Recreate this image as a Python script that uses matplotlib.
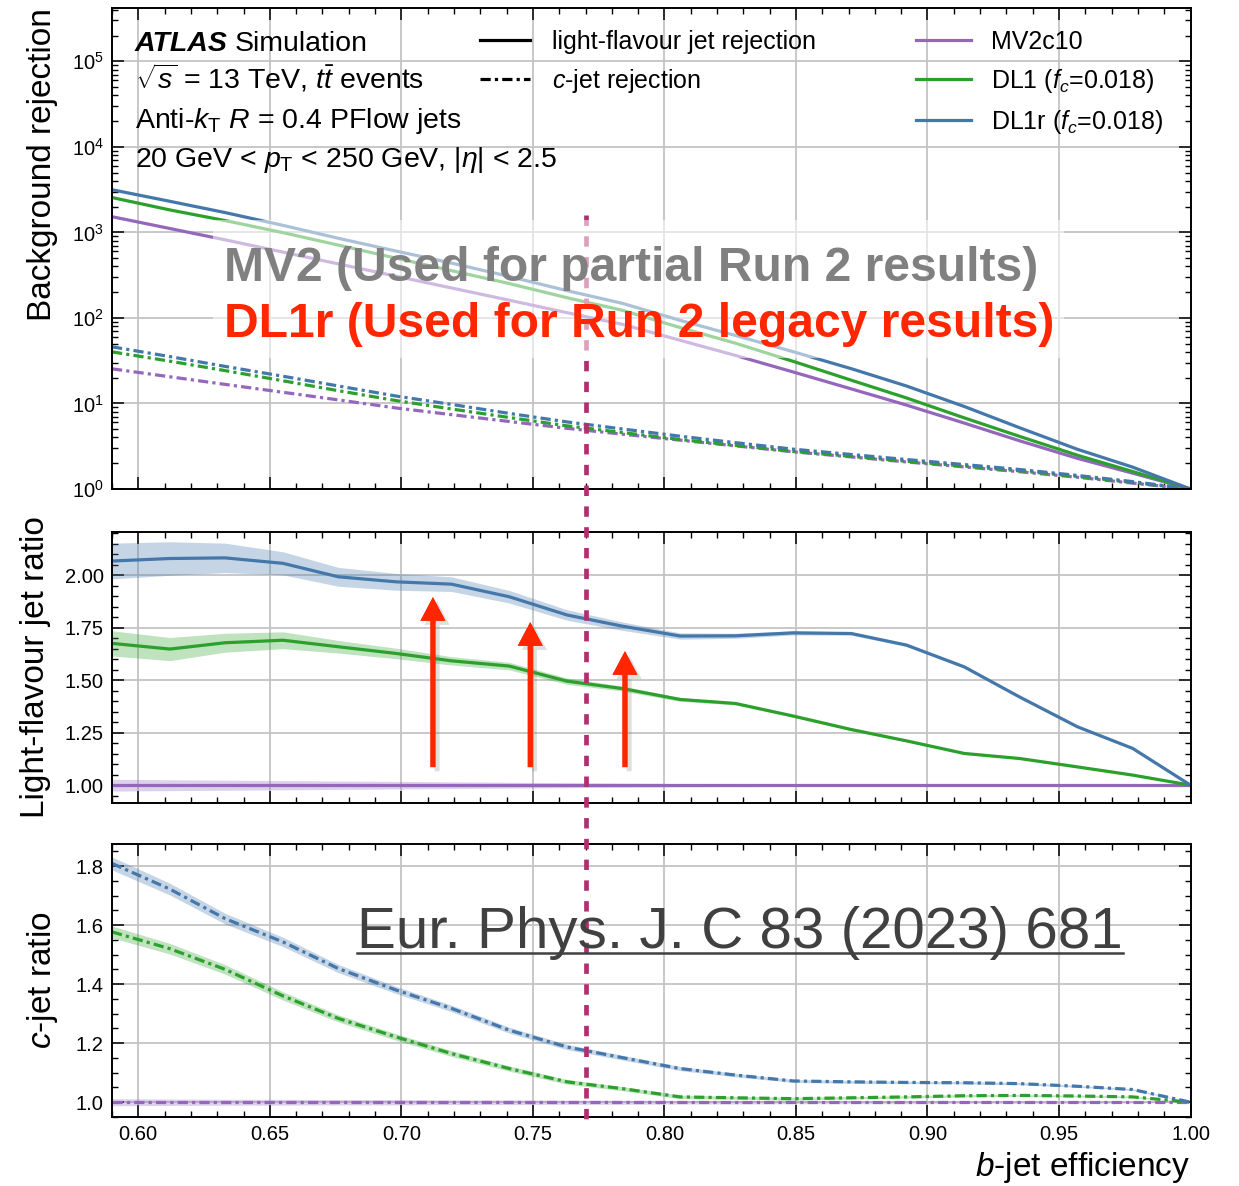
import numpy as np
import matplotlib
matplotlib.use('Agg')
import matplotlib.pyplot as plt
import matplotlib.patheffects as pe
import matplotlib.transforms as mtrans
from matplotlib.lines import Line2D
from matplotlib.patches import Rectangle, FancyArrowPatch
from matplotlib.ticker import MultipleLocator, LogLocator, NullFormatter, FormatStrFormatter

plt.rcParams['font.family'] = ['Liberation Sans', 'DejaVu Sans']
plt.rcParams['mathtext.fontset'] = 'custom'
plt.rcParams['mathtext.rm'] = 'Liberation Sans'
plt.rcParams['mathtext.it'] = 'Liberation Sans:italic'
plt.rcParams['mathtext.bf'] = 'Liberation Sans:bold'

# b-jet efficiency working points
eff = [0.590, 0.612, 0.633, 0.655, 0.676, 0.698, 0.719, 0.741, 0.763, 0.784,
       0.806, 0.827, 0.849, 0.871, 0.892, 0.914, 0.935, 0.957, 0.978, 1.000]

# light-flavour jet rejection
mv2_light  = [1524, 1109, 818, 587, 428, 307, 224, 161, 115, 84.1,
              54.7, 36.4, 23.3, 14.8, 9.57, 5.89, 3.66, 2.28, 1.53, 1.0]
dl1_light  = [2553, 1828, 1373, 992, 710, 499, 357, 252, 172, 122.8,
              77.0, 50.6, 31.0, 18.7, 11.6, 6.78, 4.12, 2.48, 1.60, 1.0]
dl1r_light = [3150, 2306, 1703, 1207, 853, 604, 438, 305, 208, 148,
              93.5, 62.3, 40.2, 25.5, 16.0, 9.21, 5.20, 2.91, 1.80, 1.0]

# c-jet rejection
mv2_c  = [25.4, 20.5, 16.7, 13.5, 11.0, 8.85, 7.40, 6.15, 5.12, 4.37,
          3.72, 3.19, 2.72, 2.37, 2.07, 1.81, 1.59, 1.37, 1.17, 1.0]
dl1_c  = [40.1, 31.2, 24.2, 18.4, 14.1, 10.8, 8.62, 6.85, 5.47, 4.57,
          3.79, 3.24, 2.75, 2.41, 2.11, 1.85, 1.63, 1.40, 1.19, 1.0]
dl1r_c = [45.9, 35.3, 27.1, 20.8, 16.0, 12.2, 9.75, 7.65, 6.08, 5.03,
          4.14, 3.48, 2.92, 2.53, 2.21, 1.93, 1.69, 1.44, 1.22, 1.0]

# ratios to MV2c10 and their uncertainty half-widths
mv2_lratio  = [1.0, 1.0, 1.0, 1.0, 1.0, 1.0, 1.0, 1.0, 1.0, 1.0,
               1.0, 1.0, 1.0, 1.0, 1.0, 1.0, 1.0, 1.0, 1.0, 1.0]
dl1_lratio  = [1.675, 1.648, 1.678, 1.690, 1.659, 1.627, 1.592, 1.567, 1.495, 1.460,
               1.408, 1.389, 1.329, 1.265, 1.211, 1.151, 1.127, 1.087, 1.048, 1.000]
dl1r_lratio = [2.067, 2.079, 2.082, 2.056, 1.992, 1.968, 1.957, 1.897, 1.810, 1.757,
               1.710, 1.711, 1.725, 1.722, 1.667, 1.563, 1.420, 1.278, 1.175, 1.000]
mv2_lerr  = [0.028, 0.026, 0.024, 0.022, 0.020, 0.018, 0.016, 0.014, 0.012, 0.010,
             0.008, 0.007, 0.006, 0.005, 0.004, 0.004, 0.003, 0.003, 0.002, 0.0]
dl1_lerr  = [0.060, 0.055, 0.045, 0.040, 0.030, 0.025, 0.020, 0.018, 0.015, 0.012,
             0.009, 0.007, 0.006, 0.005, 0.004, 0.004, 0.003, 0.003, 0.002, 0.0]
dl1r_lerr = [0.085, 0.080, 0.070, 0.055, 0.045, 0.040, 0.035, 0.030, 0.025, 0.020,
             0.015, 0.012, 0.010, 0.008, 0.007, 0.006, 0.005, 0.004, 0.003, 0.0]

mv2_cratio  = [1.0, 1.0, 1.0, 1.0, 1.0, 1.0, 1.0, 1.0, 1.0, 1.0,
               1.0, 1.0, 1.0, 1.0, 1.0, 1.0, 1.0, 1.0, 1.0, 1.0]
dl1_cratio  = [1.577, 1.520, 1.450, 1.360, 1.284, 1.221, 1.165, 1.114, 1.069, 1.046,
               1.018, 1.015, 1.012, 1.015, 1.018, 1.022, 1.023, 1.021, 1.018, 1.000]
dl1r_cratio = [1.809, 1.722, 1.622, 1.543, 1.453, 1.380, 1.318, 1.244, 1.187, 1.151,
               1.114, 1.092, 1.072, 1.069, 1.067, 1.066, 1.063, 1.054, 1.043, 1.000]
mv2_cerr  = [0.012, 0.011, 0.010, 0.010, 0.009, 0.009, 0.008, 0.008, 0.007, 0.007,
             0.006, 0.006, 0.005, 0.005, 0.005, 0.004, 0.004, 0.004, 0.003, 0.0]
dl1_cerr  = [0.020, 0.018, 0.016, 0.014, 0.012, 0.011, 0.010, 0.009, 0.008, 0.007,
             0.006, 0.005, 0.005, 0.004, 0.004, 0.004, 0.003, 0.003, 0.003, 0.0]
dl1r_cerr = [0.022, 0.020, 0.018, 0.016, 0.014, 0.012, 0.011, 0.010, 0.009, 0.008,
             0.007, 0.006, 0.005, 0.005, 0.004, 0.004, 0.004, 0.003, 0.003, 0.0]

taggers = ['MV2c10', r'DL1 ($f_c$=0.018)', r'DL1r ($f_c$=0.018)']
colours = ['#9467bd', '#2ca02c', '#4477aa']
light   = [mv2_light, dl1_light, dl1r_light]
cjet    = [mv2_c, dl1_c, dl1r_c]
lratio  = [mv2_lratio, dl1_lratio, dl1r_lratio]
lerr    = [mv2_lerr, dl1_lerr, dl1r_lerr]
cratio  = [mv2_cratio, dl1_cratio, dl1r_cratio]
cerr    = [mv2_cerr, dl1_cerr, dl1r_cerr]

wp_eff      = 0.77
arrow_x     = [0.712, 0.749, 0.785]
arrow_tip   = [1.895, 1.776, 1.638]
arrow_base  = 1.086

dashdot = (0, (3.2, 1.3, 1.0, 1.3))
lw = 2.3
txt_size = 20.5

fig = plt.figure(figsize=(12.39, 11.86), dpi=100)
L, W = 0.0904, 0.8705
ax1 = fig.add_axes([L, 0.5877, W, 0.4056])
ax2 = fig.add_axes([L, 0.3229, W, 0.2285])
ax3 = fig.add_axes([L, 0.0582, W, 0.2302])

for i in range(3):
	ax1.plot(eff, light[i], color=colours[i], lw=lw)
	ax1.plot(eff, cjet[i], color=colours[i], lw=lw, ls=dashdot)

	r  = np.array(lratio[i]); e = np.array(lerr[i])
	ax2.fill_between(eff, r-e, r+e, color=colours[i], alpha=0.3, lw=0)
	ax2.plot(eff, r, color=colours[i], lw=lw)

	r  = np.array(cratio[i]); e = np.array(cerr[i])
	ax3.fill_between(eff, r-e, r+e, color=colours[i], alpha=0.3, lw=0)
	ax3.plot(eff, r, color=colours[i], lw=lw, ls=dashdot)

ax1.set_yscale('log')
ax1.set_ylim(1, 4.2e5)
ax1.yaxis.set_major_locator(LogLocator(base=10, numticks=12))
ax1.yaxis.set_minor_locator(LogLocator(base=10, subs=np.arange(2, 10), numticks=12))
ax1.yaxis.set_minor_formatter(NullFormatter())

ax2.set_ylim(0.915, 2.205)
ax2.yaxis.set_major_locator(MultipleLocator(0.25))
ax2.yaxis.set_minor_locator(MultipleLocator(0.05))
ax2.yaxis.set_major_formatter(FormatStrFormatter('%.2f'))

ax3.set_ylim(0.95, 1.875)
ax3.yaxis.set_major_locator(MultipleLocator(0.2))
ax3.yaxis.set_minor_locator(MultipleLocator(0.05))
ax3.yaxis.set_major_formatter(FormatStrFormatter('%.1f'))
ax3.xaxis.set_major_formatter(FormatStrFormatter('%.2f'))

for ax in [ax1, ax2, ax3]:
	ax.set_xlim(0.59, 1.0)
	ax.xaxis.set_major_locator(MultipleLocator(0.05))
	ax.xaxis.set_minor_locator(MultipleLocator(0.01))
	ax.set_axisbelow(True)
	ax.grid(True, which='major', color='#c4c4c4', lw=1.3)
	ax.tick_params(which='both', direction='in', top=True, right=True, labelsize=14.5, pad=6)
	ax.tick_params(which='major', length=8.5, width=1.1)
	ax.tick_params(which='minor', length=4, width=1.0)
	for s in ax.spines.values():
		s.set_linewidth(1.4)
ax1.tick_params(labelbottom=False)
ax2.tick_params(labelbottom=False)

ax1.set_ylabel('Background rejection', fontsize=24, ha='right', y=1.0)
ax2.set_ylabel('Light-flavour jet ratio', fontsize=24)
ax3.set_ylabel(r'$c$-jet ratio', fontsize=24)
ax1.yaxis.set_label_coords(-0.050, 1.0)
ax2.yaxis.set_label_coords(-0.057, 0.5)
ax3.yaxis.set_label_coords(-0.048, 0.5)
ax3.set_xlabel(r'$b$-jet efficiency', fontsize=24, ha='right')
ax3.xaxis.set_label_coords(1.0, -0.122)

# legends
style_handles = [Line2D([], [], color='black', lw=lw),
                 Line2D([], [], color='black', lw=lw, ls=dashdot)]
leg1 = ax1.legend(style_handles, ['light-flavour jet rejection', r'$c$-jet rejection'],
                  loc='upper left', bbox_to_anchor=(0.341, 0.955), frameon=False,
                  fontsize=18, borderpad=0, borderaxespad=0, handlelength=2.0,
                  handletextpad=0.9, labelspacing=0.52)
ax1.add_artist(leg1)
tag_handles = [Line2D([], [], color=c, lw=lw) for c in colours]
ax1.legend(tag_handles, taggers, loc='upper left', bbox_to_anchor=(0.745, 0.955),
           frameon=False, fontsize=18, borderpad=0, borderaxespad=0, handlelength=2.2,
           handletextpad=0.8, labelspacing=0.52)

atlas = ax1.text(0.0213, 0.9106, 'ATLAS', transform=ax1.transAxes, fontsize=txt_size,
                 fontweight='bold', fontstyle='italic', va='baseline')
ax1.text(0.0213, 0.8316, r'$\sqrt{s}$ = 13 TeV, $t\bar{t}$ events', transform=ax1.transAxes,
         fontsize=txt_size, va='baseline')
ax1.text(0.0213, 0.7505, r'Anti-$k_{\mathrm{T}}$ $R$ = 0.4 PFlow jets', transform=ax1.transAxes,
         fontsize=txt_size, va='baseline')
ax1.text(0.0213, 0.6694, r'20 GeV < $p_{\mathrm{T}}$ < 250 GeV, $|\eta|$ < 2.5',
         transform=ax1.transAxes, fontsize=txt_size, va='baseline')

# red arrows in the light ratio panel
for x, tip in zip(arrow_x, arrow_tip):
	arr = FancyArrowPatch((x, arrow_base), (x, tip), arrowstyle='simple,head_width=18,head_length=17,tail_width=3.6',
	                      mutation_scale=1, color='#ff2600', lw=0, shrinkA=0, shrinkB=0, zorder=8,
	                      path_effects=[pe.withSimplePatchShadow(offset=(3, -3), shadow_rgbFace='gray', alpha=0.25),
	                                    pe.Normal()])
	ax2.add_patch(arr)

# working point line across all panels
trans = mtrans.blended_transform_factory(ax1.transData, fig.transFigure)
fig.add_artist(Line2D([wp_eff, wp_eff], [0.8187, 0.0514], transform=trans, color='#b0306f',
                      lw=3.4, ls=(0, (2.2, 2.2)), zorder=5))

# white veil behind the overlay text
fig.add_artist(Rectangle((0.1719, 0.6981), 0.6869, 0.1164, transform=fig.transFigure,
                         facecolor='white', edgecolor='none', alpha=0.55, zorder=6))
fig.text(0.1808, 0.7631, 'MV2 (Used for partial Run 2 results)', fontsize=34.6, fontweight='bold',
         color='#808080', va='baseline', zorder=7)
fig.text(0.1808, 0.7158, 'DL1r (Used for Run 2 legacy results)', fontsize=34.6, fontweight='bold',
         color='#ff2600', va='baseline', zorder=7)
ref = fig.text(0.2881, 0.2007, 'Eur. Phys. J. C 83 (2023) 681', fontsize=42, color='#404040',
               va='baseline', zorder=7)

fig.canvas.draw()
renderer = fig.canvas.get_renderer()
bb = atlas.get_window_extent(renderer).transformed(ax1.transAxes.inverted())
ax1.text(bb.x1 + 0.006, 0.9106, 'Simulation', transform=ax1.transAxes, fontsize=txt_size, va='baseline')
bb = ref.get_window_extent(renderer).transformed(fig.transFigure.inverted())
fig.add_artist(Line2D([bb.x0, bb.x1], [0.2007 - 5.0/1186, 0.2007 - 5.0/1186], transform=fig.transFigure,
                      color='#404040', lw=1.8, zorder=7))

plt.savefig('out.png', dpi=100)
plt.close(fig)
